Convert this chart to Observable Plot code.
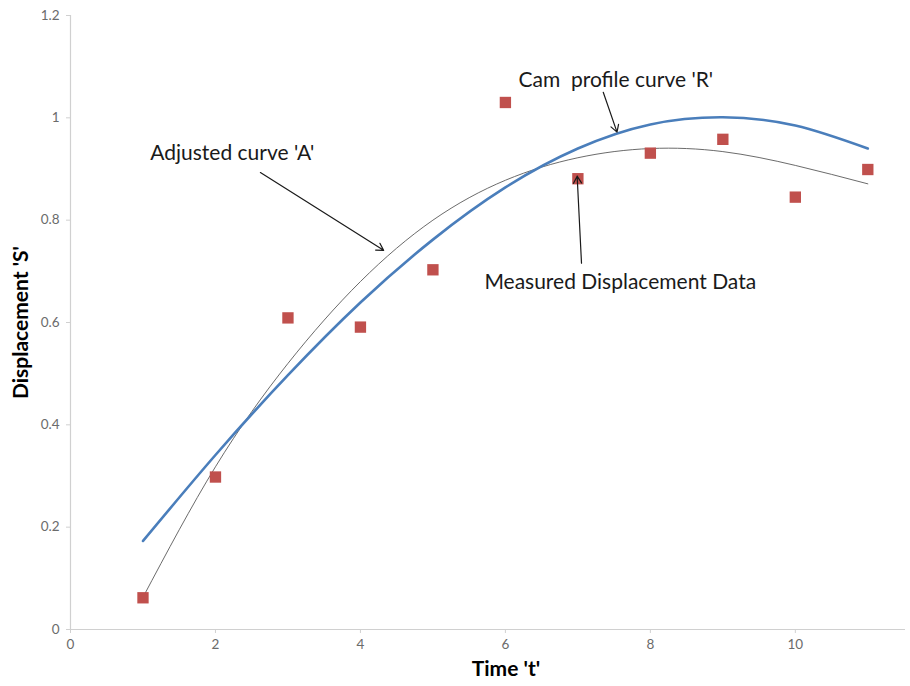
<!DOCTYPE html>
<html>
<head>
<meta charset="utf-8">
<script src="https://cdn.jsdelivr.net/npm/d3@7"></script>
<script src="https://cdn.jsdelivr.net/npm/@observablehq/plot@0.6"></script>
<style>
  html, body { margin: 0; padding: 0; background: #fff; }
  #chart svg { display: block; }
</style>
</head>
<body>
<div id="chart"></div>
<script>
// Measured displacement data
const measuredT = [1, 2, 3, 4, 5, 6, 7, 8, 9, 10, 11];
const measuredS = [0.062, 0.298, 0.609, 0.591, 0.703, 1.030, 0.881, 0.931, 0.958, 0.845, 0.899];

// Cam profile curve 'R'
const curveRT = [1, 2, 3, 4, 5, 6, 7, 8, 9, 10, 11];
const curveRS = [0.173, 0.341, 0.497, 0.639, 0.762, 0.864, 0.940, 0.987, 1.001, 0.985, 0.940];

// Adjusted curve 'A'
const curveAT = [1, 2, 3, 4, 5, 6, 7, 8, 9, 10, 11];
const curveAS = [0.063, 0.318, 0.520, 0.680, 0.800, 0.878, 0.922, 0.940, 0.934, 0.907, 0.871];

// Axis ticks
const xTicks = [0, 2, 4, 6, 8, 10];
const yTicks = [0, 0.2, 0.4, 0.6, 0.8, 1, 1.2];

// Annotation labels (data units)
const labelText = ["Adjusted curve 'A'", "Cam  profile curve 'R'", "Measured Displacement Data"];
const labelT = [1.10, 6.18, 5.71];
const labelS = [0.931, 1.073, 0.678];

// Annotation arrows (data units)
const arrowT1 = [2.62, 7.35, 7.05];
const arrowS1 = [0.893, 1.050, 0.716];
const arrowT2 = [4.32, 7.54, 6.99];
const arrowS2 = [0.741, 0.972, 0.886];

const measured = measuredT.map((t, i) => ({t, s: measuredS[i]}));
const curveR = curveRT.map((t, i) => ({t, s: curveRS[i]}));
const curveA = curveAT.map((t, i) => ({t, s: curveAS[i]}));
const labels = labelText.map((text, i) => ({text, t: labelT[i], s: labelS[i]}));
const arrows = arrowT1.map((t1, i) => ({t1, s1: arrowS1[i], t2: arrowT2[i], s2: arrowS2[i]}));

const font = "Lato, 'Open Sans', sans-serif";

const chart = Plot.plot({
  width: 910,
  height: 686,
  marginLeft: 70,
  marginRight: 5,
  marginTop: 15,
  marginBottom: 57,
  style: { fontFamily: font, background: "#fff" },
  x: { domain: [0, 11.52], ticks: xTicks },
  y: { domain: [0, 1.2], ticks: yTicks },
  marks: [
    Plot.ruleY([0], { stroke: "#d0d0d0", strokeWidth: 1.2 }),
    Plot.ruleX([0], { stroke: "#d0d0d0", strokeWidth: 1.2 }),
    Plot.axisX({ ticks: xTicks, tickSize: 4, tickPadding: 6, stroke: "#d0d0d0", fill: "#6b6b6b", fontSize: 13.5, label: null, tickFormat: d => String(d) }),
    Plot.axisY({ ticks: yTicks, tickSize: 4, tickPadding: 7, stroke: "#d0d0d0", fill: "#6b6b6b", fontSize: 13.5, label: null, tickFormat: d => String(d) }),
    Plot.line(curveA, { x: "t", y: "s", curve: "natural", stroke: "#5a5a5a", strokeWidth: 0.9 }),
    Plot.line(curveR, { x: "t", y: "s", curve: "natural", stroke: "#4a7ebb", strokeWidth: 2.6 }),
    Plot.dot(measured, { x: "t", y: "s", symbol: "square", r: 6.4, fill: "#c0504d", stroke: "none" }),
    Plot.arrow(arrows, { x1: "t1", y1: "s1", x2: "t2", y2: "s2", stroke: "#1a1a1a", strokeWidth: 1.2, headLength: 10, bend: 0 }),
    Plot.text(labels, { x: "t", y: "s", text: "text", textAnchor: "start", fontSize: 21, fill: "#1a1a1a" }),
    Plot.text(["Displacement 'S'"], { frameAnchor: "left", textAnchor: "middle", dx: -49, rotate: -90, fontSize: 21, fontWeight: "bold", fill: "#000" }),
    Plot.text(["Time 't'"], { frameAnchor: "bottom", textAnchor: "middle", dy: 46, dx: 18, fontSize: 21, fontWeight: "bold", fill: "#000" })
  ]
});
document.getElementById("chart").appendChild(chart);
</script>
</body>
</html>
